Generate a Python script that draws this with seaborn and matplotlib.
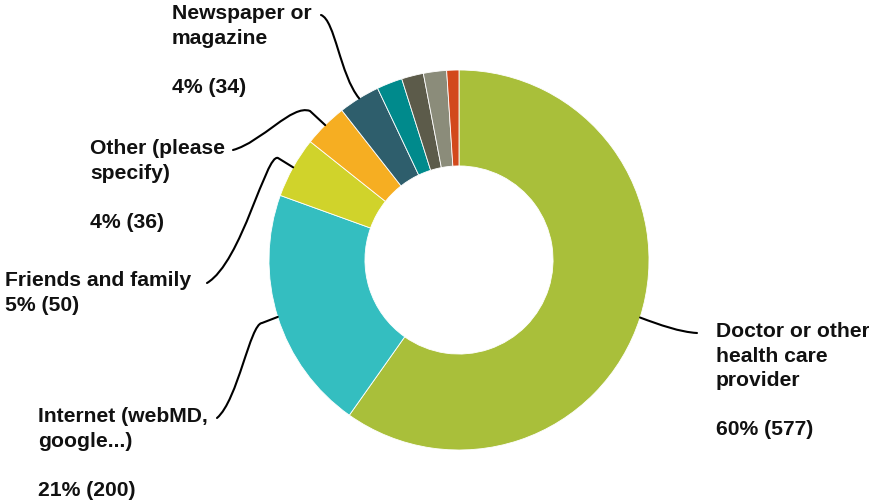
import numpy as np
import matplotlib
matplotlib.use("Agg")
import matplotlib.pyplot as plt
import seaborn as sns
from matplotlib.path import Path
from matplotlib.patches import PathPatch
from matplotlib.transforms import IdentityTransform

sns.set_theme(style="white")
plt.rcParams['font.family'] = ['Liberation Sans', 'DejaVu Sans']

categories = ["Doctor or other health care provider", "Internet (webMD, google...)",
              "Friends and family", "Other (please specify)", "Newspaper or magazine",
              "Small A", "Small B", "Small C", "Small D"]
values = [577, 200, 50, 36, 34, 21, 18, 19, 10]
colors = ["#A9BF3A", "#34BEC0", "#D0D32B", "#F6AE22", "#2E5E6C",
          "#008A8C", "#5C5B4A", "#8B8C7A", "#D2491C"]
label_texts = ["Doctor or other\nhealth care\nprovider\n\n60% (577)",
               "Internet (webMD,\ngoogle...)\n\n21% (200)",
               "Friends and family\n5% (50)",
               "Other (please\nspecify)\n\n4% (36)",
               "Newspaper or\nmagazine\n\n4% (34)"]

W, H = 870, 503
fig = plt.figure(figsize=(W / 100, H / 100), dpi=100)
cx, cy, R = 459, 260, 190
half = 200
ax = fig.add_axes([(cx - half) / W, (H - cy - half) / H, 2 * half / W, 2 * half / H])

wedges, _ = ax.pie(values, colors=colors, startangle=90, counterclock=False,
                   radius=1.0, wedgeprops=dict(width=0.505, edgecolor='white', linewidth=0.6))
lim = half / R
ax.set_xlim(-lim, lim)
ax.set_ylim(-lim, lim)
ax.set_aspect('equal')
ax.axis('off')

# label positions (pixels from top-left) and leader lines
label_pos = [(716, 322), (38, 407), (5, 271), (90, 139), (172, 4)]
leader_mid = [
    [(660, 325), (680, 332), (697, 333)],
    None,
    None,
    None,
    [(340, 75), (335, 20), (321, 15)],
]

def to_disp(p):
    return (p[0], H - p[1])

fig.canvas.draw()
for i, w in enumerate(wedges[:5]):
    ang = np.deg2rad((w.theta1 + w.theta2) / 2)
    sx, sy = ax.transData.transform((np.cos(ang), np.sin(ang)))
    S = (sx, sy)
    if i == 0 or i == 4:
        pts = [S] + [to_disp(p) for p in leader_mid[i]]
        codes = [Path.MOVETO, Path.CURVE4, Path.CURVE4, Path.CURVE4]
    elif i == 1:
        pts = [S, to_disp((262, 323)), to_disp((250, 324)), to_disp((238, 400)), to_disp((217, 418))]
        codes = [Path.MOVETO, Path.LINETO, Path.CURVE4, Path.CURVE4, Path.CURVE4]
    elif i == 2:
        pts = [S, to_disp((278, 158)), to_disp((266, 153)), to_disp((242, 262)), to_disp((207, 283))]
        codes = [Path.MOVETO, Path.LINETO, Path.CURVE4, Path.CURVE4, Path.CURVE4]
    else:
        pts = [S, to_disp((310, 111)), to_disp((292, 104)), to_disp((262, 142)), to_disp((233, 150))]
        codes = [Path.MOVETO, Path.LINETO, Path.CURVE4, Path.CURVE4, Path.CURVE4]
    patch = PathPatch(Path(pts, codes), transform=IdentityTransform(), fill=False,
                      edgecolor='black', linewidth=1.5, capstyle='round', joinstyle='round')
    fig.add_artist(patch)
    lx, ly = label_pos[i]
    fig.text(lx / W, 1 - ly / H, label_texts[i], ha='left', va='top', fontsize=15.2,
             fontweight='bold', color='#111111', linespacing=1.37)

fig.savefig("out.png", dpi=100, facecolor='white')
